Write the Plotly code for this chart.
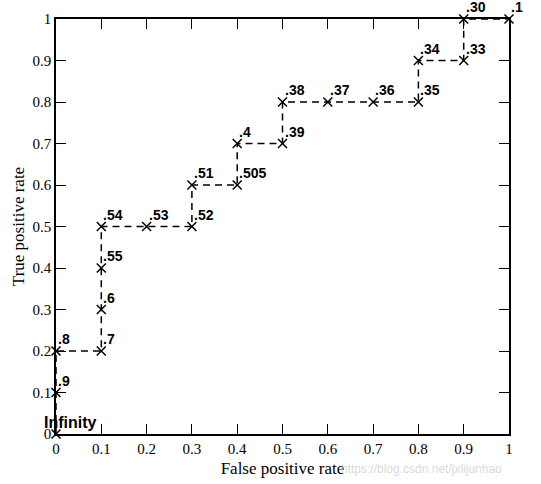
import plotly.graph_objects as go

fpr = [0, 0, 0, 0.1, 0.1, 0.1, 0.1, 0.2, 0.3, 0.3, 0.4, 0.4, 0.5, 0.5, 0.6, 0.7, 0.8, 0.8, 0.9, 0.9, 1.0]
tpr = [0, 0.1, 0.2, 0.2, 0.3, 0.4, 0.5, 0.5, 0.5, 0.6, 0.6, 0.7, 0.7, 0.8, 0.8, 0.8, 0.8, 0.9, 0.9, 1.0, 1.0]
labels = ["Infinity", ".9", ".8", ".7", ".6", ".55", ".54", ".53", ".52", ".51", ".505", ".4",
          ".39", ".38", ".37", ".36", ".35", ".34", ".33", ".30", ".1"]
ticks = [0, 0.1, 0.2, 0.3, 0.4, 0.5, 0.6, 0.7, 0.8, 0.9, 1]
tick_text = ["0", "0.1", "0.2", "0.3", "0.4", "0.5", "0.6", "0.7", "0.8", "0.9", "1"]

fig = go.Figure()
fig.add_trace(go.Scatter(
    x=fpr, y=tpr, mode="lines+markers",
    line=dict(color="black", width=1.5, dash="7px,5px"),
    marker=dict(symbol="x-thin", size=9, line=dict(color="black", width=1.5)),
    cliponaxis=False, showlegend=False, hoverinfo="skip",
))

for x, y, t in zip(fpr, tpr, labels):
    if t == "Infinity":
        fig.add_annotation(x=x, y=y, text="<b>" + t + "</b>", showarrow=False,
                           xanchor="center", yanchor="bottom", xshift=14, yshift=2,
                           borderpad=0,
                           font=dict(family="Liberation Sans", size=16, color="black"))
    else:
        fig.add_annotation(x=x, y=y, text="<b>" + t + "</b>", showarrow=False,
                           xanchor="left", yanchor="bottom", xshift=1, yshift=3,
                           borderpad=0,
                           font=dict(family="Liberation Sans", size=14, color="black"))

fig.add_annotation(x=0.99, y=-0.085, xref="paper", yref="paper",
                   text="https://blog.csdn.net/jxlijunhao", showarrow=False,
                   xanchor="right", yanchor="middle",
                   font=dict(family="Liberation Sans", size=12, color="rgba(200,200,200,0.7)"))

axis_common = dict(
    range=[0, 1], tickvals=ticks, ticktext=tick_text, ticks="inside", ticklen=10,
    tickwidth=1, tickcolor="black", showline=True, linecolor="black", linewidth=1.5,
    mirror="ticks", showgrid=False, zeroline=False, automargin=False,
    tickfont=dict(family="Liberation Serif", size=15, color="black"),
)

fig.update_layout(
    width=541, height=484,
    margin=dict(l=56, r=32, t=19, b=50),
    paper_bgcolor="white", plot_bgcolor="white",
    xaxis=dict(axis_common, title=dict(text="False positive rate", standoff=6,
               font=dict(family="Liberation Serif", size=17, color="black"))),
    yaxis=dict(axis_common, title=dict(text="True positive rate", standoff=4,
               font=dict(family="Liberation Serif", size=17, color="black"))),
)

fig.write_html("out.html", config={"displayModeBar": False},
               post_script="document.body.style.margin='0';")
